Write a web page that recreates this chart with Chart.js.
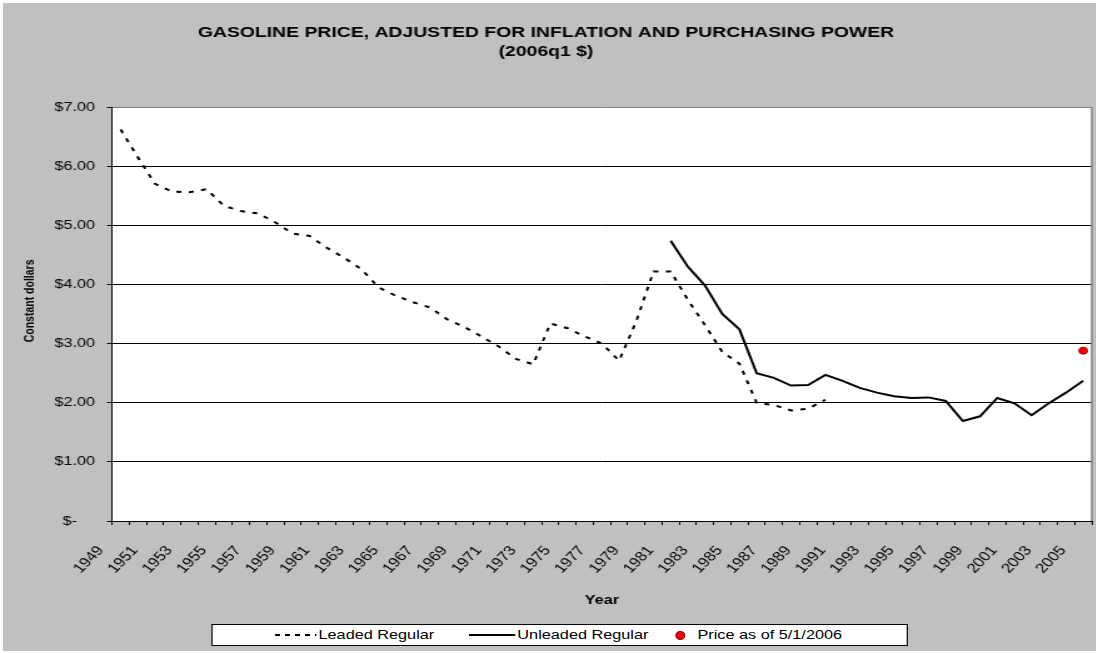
<!DOCTYPE html>
<html>
<head>
<meta charset="utf-8">
<script src="https://cdn.jsdelivr.net/npm/chart.js@4.4.1/dist/chart.umd.min.js"></script>
<style>
    html, body { margin: 0; padding: 0; background: #fff; }
    #bg { position: absolute; left: 3px; top: 3px; width: 1093px; height: 648px; background: #c0c0c0; }
    /* the reference is stretched sideways, so draw narrow and widen */
    #wrap { position: absolute; left: 0; top: 0; width: 878px; height: 653px; transform: scaleX(1.2506); transform-origin: 0 0; }
    #legend { position: absolute; left: 168.7px; top: 624px; width: 557px; height: 22px; box-sizing: border-box;
              border: 1px solid #000; background: #fff; font: 13px Arial, "Liberation Sans", sans-serif; color: #000; }
    #legend span { position: absolute; }
    .txt { top: 2px; line-height: 16px; white-space: nowrap; }
    .dash { top: 9px; width: 33px; height: 2px; background: repeating-linear-gradient(to right, #000 0 4px, transparent 4px 8px); }
    .solid { top: 9px; width: 37px; height: 2px; background: #000; }
    .dot { top: 6px; width: 6px; height: 7px; border-radius: 50%; background: #f00; border: 1px solid #900; }
</style>
</head>
<body>
<div id="bg"></div>
<div id="wrap">
    <canvas id="gasChart" width="878" height="653"></canvas>
    <div id="legend">
        <span class="dash" style="left:50px"></span><span class="txt" style="left:85px">Leaded Regular</span>
        <span class="solid" style="left:205px"></span><span class="txt" style="left:244px">Unleaded Regular</span>
        <span class="dot" style="left:370px"></span><span class="txt" style="left:388px">Price as of 5/1/2006</span>
    </div>
</div>
<script>
"use strict";

const years = ['1949', '1950', '1951', '1952', '1953', '1954', '1955', '1956', '1957', '1958',
    '1959', '1960', '1961', '1962', '1963', '1964', '1965', '1966', '1967', '1968',
    '1969', '1970', '1971', '1972', '1973', '1974', '1975', '1976', '1977', '1978',
    '1979', '1980', '1981', '1982', '1983', '1984', '1985', '1986', '1987', '1988',
    '1989', '1990', '1991', '1992', '1993', '1994', '1995', '1996', '1997', '1998',
    '1999', '2000', '2001', '2002', '2003', '2004', '2005'];

const leaded = [6.62, 6.15, 5.70, 5.57, 5.56, 5.61, 5.33, 5.24, 5.20, 5.05,
    4.86, 4.82, 4.62, 4.45, 4.26, 3.95, 3.81, 3.70, 3.61, 3.41,
    3.28, 3.12, 2.95, 2.74, 2.65, 3.34, 3.26, 3.12, 3.00, 2.71,
    3.38, 4.22, 4.22, 3.74, 3.31, 2.86, 2.66, 2.00, 1.96, 1.87,
    1.90, 2.05];

const unleaded = [4.74, 4.30, 3.98, 3.50, 3.24, 2.50, 2.42, 2.29, 2.30, 2.47,
    2.37, 2.25, 2.17, 2.11, 2.08, 2.09, 2.03, 1.69, 1.77, 2.08,
    1.99, 1.79, 1.99, 2.17, 2.37];

const currentPrice = 2.88;   // 5/1/2006, shown at the last category

const titleLines = ['GASOLINE PRICE, ADJUSTED FOR INFLATION AND PURCHASING POWER', '(2006q1 $)'];

// pad series out to the full year axis
const leadedData = years.map((y, i) => i < leaded.length ? leaded[i] : null);
const unleadedStart = years.length - unleaded.length;
const unleadedData = years.map((y, i) => i >= unleadedStart ? unleaded[i - unleadedStart] : null);
const priceData = years.map((y, i) => i === years.length - 1 ? currentPrice : null);

const plotBackground = {
    id: 'plotBackground',
    beforeDraw(chart) {
        const {ctx, chartArea: a} = chart;
        ctx.save();
        ctx.fillStyle = '#fff';
        ctx.fillRect(a.left, a.top, a.right - a.left, a.bottom - a.top);
        ctx.restore();
    },
    beforeDatasetsDraw(chart) {
        const {ctx, chartArea: a} = chart;
        ctx.save();
        ctx.strokeStyle = '#808080';
        ctx.lineWidth = 1.5;
        ctx.beginPath();
        ctx.moveTo(a.right, a.top);
        ctx.lineTo(a.right, a.bottom);
        ctx.stroke();
        ctx.restore();
    }
};

Chart.defaults.font.family = 'Arial, "Liberation Sans", sans-serif';
Chart.defaults.color = '#000';

const ctx = document.getElementById('gasChart').getContext('2d');
const gasChart = new Chart(ctx, {
    type: 'line',
    data: {
        labels: years,
        datasets: [{
            label: 'Leaded Regular',
            data: leadedData,
            borderColor: '#000',
            borderWidth: 2,
            borderDash: [4, 6],
            pointRadius: 0,
            tension: 0,
        }, {
            label: 'Unleaded Regular',
            data: unleadedData,
            borderColor: '#000',
            borderWidth: 2,
            pointRadius: 0,
            tension: 0,
        }, {
            label: 'Price as of 5/1/2006',
            data: priceData,
            showLine: false,
            pointRadius: 3.5,
            pointBackgroundColor: '#ff0000',
            pointBorderColor: '#990000',
            pointBorderWidth: 1,
        }]
    },
    options: {
        responsive: false,
        animation: false,
        layout: {
            padding: {left: 0, right: 4.8, top: 0, bottom: 32}
        },
        plugins: {
            legend: {display: false},
            tooltip: {enabled: false},
            title: {
                display: true,
                text: titleLines,
                color: '#000',
                font: {size: 15.5, weight: 'bold', lineHeight: 1.226},
                padding: {top: 23.5, bottom: 45.5},
            },
        },
        scales: {
            x: {
                offset: true,
                grid: {
                    offset: true,
                    drawOnChartArea: false,
                    tickLength: 4,
                    color: '#000',
                },
                border: {color: '#000'},
                ticks: {
                    autoSkip: false,
                    minRotation: 51,
                    maxRotation: 51,
                    padding: 18,
                    labelOffset: -16,
                    font: {size: 13.5},
                    callback: (v, i) => i % 2 === 0 ? years[i] : '',
                },
                title: {
                    display: true,
                    text: 'Year',
                    font: {size: 13, weight: 'bold'},
                    padding: {top: 0, bottom: 13},
                },
                afterFit: (scale) => {
                    scale.height = 100;
                    scale.paddingLeft = 0;
                    scale.paddingRight = 0;
                },
            },
            y: {
                min: 0,
                max: 7,
                ticks: {
                    stepSize: 1,
                    padding: 9.6,
                    font: {size: 13},
                    callback: (v) => v === 0 ? '$-    ' : '$' + v.toFixed(2),
                },
                grid: {
                    color: (c) => c.tick && c.tick.value === 7 ? '#808080' : '#000',
                    tickColor: '#000',
                    tickLength: 4,
                },
                border: {color: '#000'},
                title: {
                    display: true,
                    text: '         Constant dollars',
                    font: {size: 10.5, weight: 'bold'},
                    padding: {top: 17.7, bottom: 0},
                },
                afterFit: (scale) => { scale.width = 89.6; },
            }
        }
    },
    plugins: [plotBackground],
});
</script>
</body>
</html>
